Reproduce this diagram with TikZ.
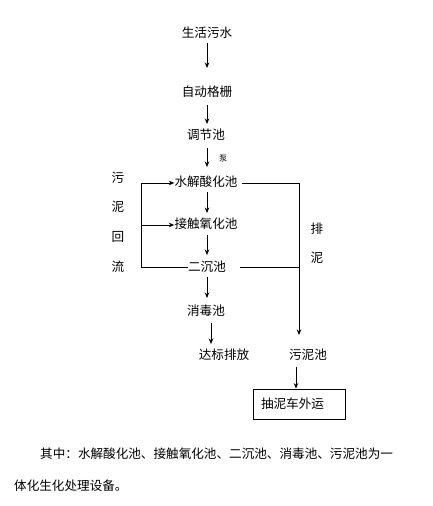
\documentclass[tikz,border=0pt]{standalone}
\usepackage{fontspec}
\setmainfont{Noto Sans CJK SC}
\usetikzlibrary{arrows.meta}
\tikzset{
  lbl/.style={inner sep=0pt, text height=10pt, text depth=2.6pt, font=\fontsize{12.6}{14}\selectfont},
  arr/.style={-{Stealth[length=5.5pt,width=4.5pt]}, line width=0.8pt},
  ln/.style={line width=0.8pt},
}
\begin{document}
\begin{tikzpicture}[x=1pt,y=-1pt]
\useasboundingbox (0,0) rectangle (432,506);
% nodes
\node[lbl] (src) at (207,34) {生活污水};
\node[lbl] (grid) at (207,93) {自动格栅};
\node[lbl] (adj) at (206,136) {调节池};
\node[inner sep=0pt, font=\fontsize{8}{9}\selectfont] (pump) at (223,159) {泵};
\node[lbl] (hyd) at (206,183) {水解酸化池};
\node[lbl] (con) at (206,225) {接触氧化池};
\node[lbl] (sec) at (207,268) {二沉池};
\node[lbl] (dis) at (206,312) {消毒池};
\node[lbl] (out) at (224,356) {达标排放};
\node[lbl] (sludge) at (308,356) {污泥池};
\node[draw, line width=0.8pt, inner xsep=8pt, inner ysep=0pt, text width=76pt, minimum height=30pt, align=left,
      font=\fontsize{12.6}{14}\selectfont] (truck) at (299,404) {抽泥车外运};
\node[inner sep=0pt, align=center, font=\fontsize{12.6}{29.7}\selectfont] (reflux) at (118,222) {污\\泥\\回\\流};
\node[inner sep=0pt, align=center, font=\fontsize{12.6}{29}\selectfont] (drain) at (317,243) {排\\泥};
\node[lbl, anchor=west] (note1) at (40,455) {其中：水解酸化池、接触氧化池、二沉池、消毒池、污泥池为一};
\node[lbl, anchor=west] (note2) at (14,487) {体化生化处理设备。};
% coordinates
\coordinate (lt) at (141,183);
\coordinate (lb) at (141,267);
\coordinate (rt) at (299,183);
% main flow
\draw[arr, shorten <=2pt, shorten >=18.5pt] (src) -- (grid);
\draw[arr, shorten <=5.5pt, shorten >=5.5pt] (grid) -- (adj.north -| grid);
\draw[arr, shorten <=5.5pt, shorten >=9.5pt] ([xshift=1pt]adj.south) -- ([xshift=1pt]adj.south |- hyd.north);
\draw[arr, shorten <=2.5pt, shorten >=5.5pt] ([xshift=1pt]hyd.south) -- ([xshift=1pt]hyd.south |- con.north);
\draw[arr, shorten <=3.5pt, shorten >=6.5pt] (con.south -| sec) -- (sec.north);
\draw[arr, shorten <=2pt, shorten >=7.5pt] (sec.south) -- (sec.south |- dis.north);
\draw[arr, shorten <=4.5pt, shorten >=5.5pt] ([xshift=5pt]dis.south) -- ([xshift=5pt]dis.south |- out.north);
% sludge return
\draw[ln] (sec.west |- lb) -- (lb) -- (lt);
\draw[arr] (lt) -- (hyd.west);
\draw[arr] (lb |- con) -- (con.west);
% sludge discharge
\draw[ln, shorten <=4.5pt] (hyd.east) -- (rt);
\draw[ln, shorten <=14pt] (sec.east |- lb) -- (lb -| rt);
\draw[arr, shorten >=14.5pt] (rt) -- (rt |- sludge.north);
\draw[arr, shorten <=4.5pt] ([xshift=-12pt]sludge.south) -- ([xshift=-12pt]sludge.south |- truck.north);
\end{tikzpicture}
\end{document}
